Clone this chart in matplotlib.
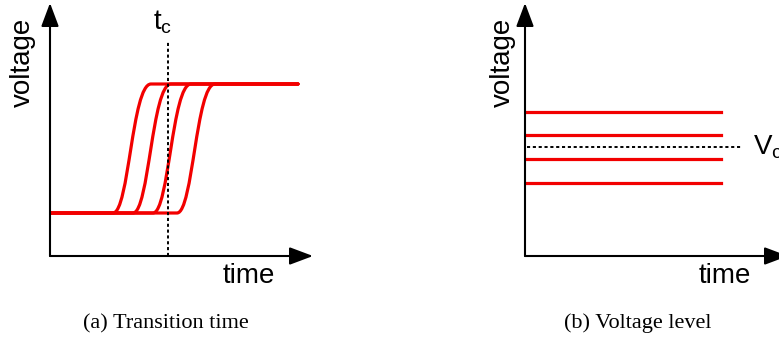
import matplotlib.pyplot as plt
from matplotlib.path import Path
from matplotlib.patches import PathPatch

plt.rcParams['font.family'] = 'Liberation Sans'
plt.rcParams['mathtext.fontset'] = 'custom'
plt.rcParams['mathtext.rm'] = 'Liberation Sans'
plt.rcParams['mathtext.it'] = 'Liberation Sans'

# (a) rising edges, arbitrary units
v_low, v_high = 43, 172
rise_start = [63, 83, 103, 127]
rise_width = 38
trace_end = 248
t_c = 118
t_c_top = 214

# (b) flat levels around the threshold
levels = [144, 121, 97, 73]
level_from, level_to = 2, 196
v_c = 109
v_c_to = 217

W, H = 779, 338
fig = plt.figure(figsize=(W / 100, H / 100), dpi=100)


def make_axes(x0, y0):
    ax = fig.add_axes([x0 / W, (H - y0) / H, 263 / W, 253 / H])
    ax.set_xlim(0, 263)
    ax.set_ylim(0, 253)
    ax.axis('off')
    arrow = dict(arrowstyle='-|>,head_length=14.4,head_width=5.4',
                 mutation_scale=1, lw=1.5, color='black',
                 shrinkA=0, shrinkB=0)
    ax.annotate('', xy=(263, 0), xytext=(0, 0), arrowprops=arrow,
                annotation_clip=False)
    ax.annotate('', xy=(0, 253), xytext=(0, 0), arrowprops=arrow,
                annotation_clip=False)
    return ax


ax1 = make_axes(50, 256)
ax2 = make_axes(525, 256)

# S-shaped transitions as cubic beziers
for x0 in rise_start:
    verts = [(0, v_low), (x0, v_low),
             (x0 + 0.42 * rise_width, v_low),
             (x0 + 0.5 * rise_width, v_high),
             (x0 + rise_width, v_high),
             (trace_end, v_high)]
    codes = [Path.MOVETO, Path.LINETO, Path.CURVE4, Path.CURVE4,
             Path.CURVE4, Path.LINETO]
    ax1.add_patch(PathPatch(Path(verts, codes), fill=False, edgecolor='#f20000',
                            lw=2.3, capstyle='round', joinstyle='round'))

ax1.plot([t_c, t_c], [0, t_c_top], color='black', lw=1.4,
         linestyle=(0, (1.6, 1.4)))
ax1.text(113, 227, r'$\mathrm{t_c}$', fontsize=20, ha='center', va='baseline')
ax1.text(-27, 194, 'voltage', fontsize=20, rotation=90, ha='center', va='center')
ax1.text(199, -20, 'time', fontsize=20, ha='center', va='center')

for v in levels:
    ax2.plot([level_from, level_to], [v, v], color='#f20000', lw=2.3)
ax2.plot([level_from, v_c_to], [v_c, v_c], color='black', lw=1.4,
         linestyle=(0, (1.6, 1.4)))
ax2.text(228, v_c, r'$\mathrm{V_c}$', fontsize=20, ha='left', va='center')
ax2.text(-22, 194, 'voltage', fontsize=20, rotation=90, ha='center', va='center')
ax2.text(200, -20, 'time', fontsize=20, ha='center', va='center')

fig.text(166 / W, (H - 328) / H, '(a) Transition time', family='Liberation Serif',
         fontsize=16, ha='center', va='baseline')
fig.text(638 / W, (H - 328) / H, '(b) Voltage level', family='Liberation Serif',
         fontsize=16, ha='center', va='baseline')

fig.savefig('out.png', dpi=100)
